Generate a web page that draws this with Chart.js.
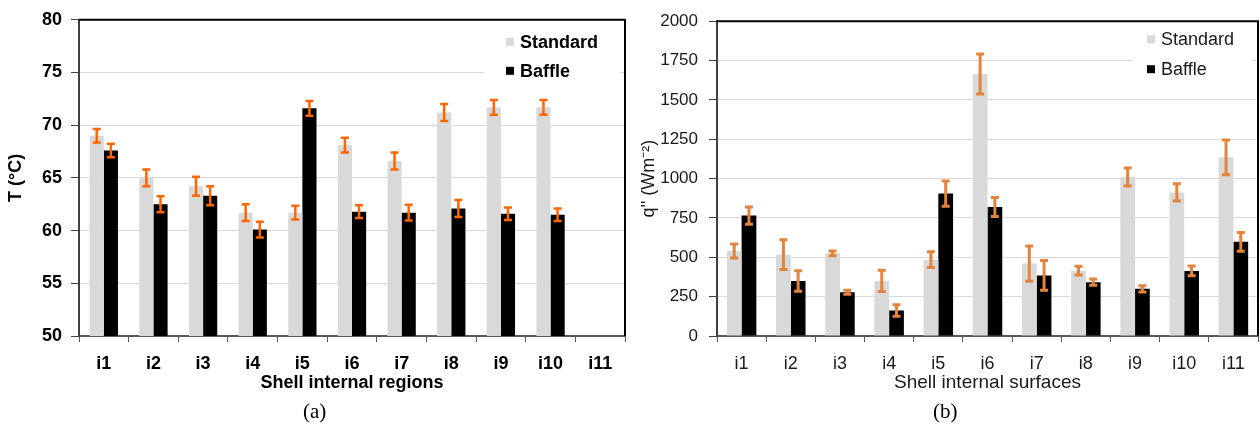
<!DOCTYPE html>
<html>
<head>
<meta charset="utf-8">
<script src="https://cdn.jsdelivr.net/npm/chart.js@4.4.1/dist/chart.umd.min.js"></script>
<style>
  body { margin: 0; background: #fff; width: 1260px; height: 427px; position: relative; overflow: hidden; }
  canvas { position: absolute; top: 0; }
  #tempChart { left: 0; }
  #fluxChart { left: 630px; }
  .caption { position: absolute; top: 401px; font: 21px/21px "Liberation Serif", serif; color: #000; }
</style>
</head>
<body>
<canvas id="tempChart" width="630" height="400"></canvas>
<canvas id="fluxChart" width="630" height="400"></canvas>
<div class="caption" style="left:303px">(a)</div>
<div class="caption" style="left:933px">(b)</div>
<script>
// categories
const regions = ["i1", "i2", "i3", "i4", "i5", "i6", "i7", "i8", "i9", "i10", "i11"];

// (a) temperature, °C
const tempStandard    = [69.0, 65.0, 64.2, 61.7, 61.7, 68.1, 66.6, 71.2, 71.7, 71.7, null];
const tempStandardErr = [0.65, 0.8, 0.9, 0.8, 0.65, 0.7, 0.8, 0.8, 0.7, 0.7, null];
const tempBaffle      = [67.6, 62.5, 63.3, 60.1, 71.6, 61.8, 61.7, 62.1, 61.6, 61.5, null];
const tempBaffleErr   = [0.65, 0.75, 0.9, 0.75, 0.7, 0.6, 0.75, 0.8, 0.6, 0.6, null];
const tempTicks = [50, 55, 60, 65, 70, 75, 80];

// (b) heat flux, W/m2
const fluxStandard    = [540, 517, 525, 350, 485, 1665, 460, 415, 1010, 912, 1135];
const fluxStandardErr = [45, 94, 15, 68, 50, 127, 112, 28, 57, 55, 110];
const fluxBaffle      = [765, 350, 278, 162, 905, 820, 385, 342, 300, 413, 598];
const fluxBaffleErr   = [55, 65, 13, 37, 80, 60, 94, 20, 20, 31, 60];
const fluxTicks = [0, 250, 500, 750, 1000, 1250, 1500, 1750, 2000];

const SANS = '"Liberation Sans", Arial, sans-serif';

// error bars drawn from each dataset's "errors" array
const errorBars = {
  id: "errorBars",
  afterDatasetsDraw(chart, args, opts) {
    const ctx = chart.ctx;
    const y = chart.scales.y;
    ctx.save();
    ctx.strokeStyle = opts.color;
    ctx.lineWidth = opts.width;
    chart.data.datasets.forEach((ds, i) => {
      chart.getDatasetMeta(i).data.forEach((bar, j) => {
        const v = ds.data[j], e = ds.errors[j];
        if (v == null || e == null) return;
        const top = y.getPixelForValue(v + e);
        const bot = y.getPixelForValue(v - e);
        ctx.beginPath();
        ctx.moveTo(bar.x, top); ctx.lineTo(bar.x, bot);
        ctx.moveTo(bar.x - opts.cap, top); ctx.lineTo(bar.x + opts.cap, top);
        ctx.moveTo(bar.x - opts.cap, bot); ctx.lineTo(bar.x + opts.cap, bot);
        ctx.stroke();
      });
    });
    ctx.restore();
  }
};

// black frame on top and right of the plot
const frame = {
  id: "frame",
  beforeDatasetsDraw(chart, args, opts) {
    const { ctx, chartArea: a } = chart;
    ctx.save();
    ctx.strokeStyle = opts.color;
    ctx.lineWidth = 2;
    ctx.beginPath();
    ctx.moveTo(a.left, a.top); ctx.lineTo(a.right, a.top); ctx.lineTo(a.right, a.bottom);
    ctx.stroke();
    ctx.restore();
  }
};

// legend in the top right corner, on a white box
const boxLegend = {
  id: "boxLegend",
  beforeDatasetsDraw(chart, args, opts) {
    const { ctx, chartArea: a } = chart;
    ctx.save();
    ctx.fillStyle = "#fff";
    ctx.fillRect(a.right - opts.boxLeft, a.top + 4, opts.boxLeft - opts.boxRight, 62);
    ctx.font = opts.font;
    ctx.textBaseline = "middle";
    chart.data.datasets.forEach((ds, i) => {
      const yy = a.top + opts.rows[i];
      ctx.fillStyle = ds.backgroundColor;
      ctx.fillRect(a.right - opts.marker, yy - 4, 8, 8);
      ctx.fillStyle = opts.color;
      ctx.fillText(ds.label, a.right - opts.text, yy + 1);
    });
    ctx.restore();
  }
};

function barChart(id, cfg) {
  const font = size => ({ family: SANS, size, weight: cfg.weight });
  return new Chart(document.getElementById(id), {
    type: "bar",
    data: {
      labels: regions,
      datasets: [
        { label: "Standard", data: cfg.standard, errors: cfg.standardErr, backgroundColor: "#d9d9d9",
          categoryPercentage: cfg.catPct, barPercentage: 1 },
        { label: "Baffle", data: cfg.baffle, errors: cfg.baffleErr, backgroundColor: "#000000",
          categoryPercentage: cfg.catPct, barPercentage: 1 }
      ]
    },
    options: {
      responsive: false,
      animation: false,
      layout: { padding: { top: cfg.top, right: cfg.right, left: 0, bottom: 0 } },
      plugins: {
        legend: { display: false },
        tooltip: { enabled: false },
        errorBars: cfg.err,
        frame: { color: "#000" },
        boxLegend: cfg.legend
      },
      scales: {
        x: {
          afterFit: s => { s.height = 64; },
          grid: { drawOnChartArea: false, offset: true, tickLength: 6, tickColor: "#595959" },
          border: { color: "#595959", width: 2 },
          ticks: { color: cfg.textColor, padding: 11, font: font(cfg.sizes[1]) },
          title: { display: true, text: cfg.xTitle, color: cfg.textColor,
                   padding: { top: 0, bottom: 6 }, font: font(cfg.sizes[2]) }
        },
        y: {
          min: cfg.ticks[0],
          max: cfg.ticks[cfg.ticks.length - 1],
          afterFit: s => { s.width = cfg.yWidth; },
          afterBuildTicks: s => { s.ticks = cfg.ticks.map(v => ({ value: v })); },
          grid: { color: "#d9d9d9", tickColor: "#404040", tickLength: 8 },
          border: { color: "#404040", width: 2 },
          ticks: { color: cfg.textColor, padding: cfg.tickPad, font: font(cfg.sizes[0]),
                   callback: v => String(v) },
          title: { display: true, text: cfg.yTitle, color: cfg.textColor,
                   padding: { top: cfg.titlePad, bottom: 0 }, font: font(cfg.sizes[3]) }
        }
      }
    },
    plugins: [frame, boxLegend, errorBars]
  });
}

barChart("tempChart", {
  standard: tempStandard, standardErr: tempStandardErr,
  baffle: tempBaffle, baffleErr: tempBaffleErr,
  ticks: tempTicks, catPct: 0.57,
  top: 15, right: 5, yWidth: 79, tickPad: 9, titlePad: 5,
  weight: "bold", textColor: "#000", sizes: [18, 18, 18, 18],
  xTitle: "Shell internal regions", yTitle: "T (°C)",
  err: { color: "#ff6600", width: 2.5, cap: 4 },
  legend: { boxLeft: 141, boxRight: 5, marker: 119, text: 105, rows: [22, 51],
            font: "bold 18px " + SANS, color: "#000" }
});

barChart("fluxChart", {
  standard: fluxStandard, standardErr: fluxStandardErr,
  baffle: fluxBaffle, baffleErr: fluxBaffleErr,
  ticks: fluxTicks, catPct: 0.6,
  top: 17, right: 2, yWidth: 87, tickPad: 11, titlePad: 8,
  weight: "normal", textColor: "#1a1a1a", sizes: [17, 18, 19, 18],
  xTitle: "Shell internal surfaces", yTitle: "q'' (Wm⁻²)",
  err: { color: "#e3843c", width: 3, cap: 4 },
  legend: { boxLeft: 125, boxRight: 6, marker: 111, text: 97, rows: [18, 48],
            font: "18px " + SANS, color: "#1a1a1a" }
});
</script>
</body>
</html>
